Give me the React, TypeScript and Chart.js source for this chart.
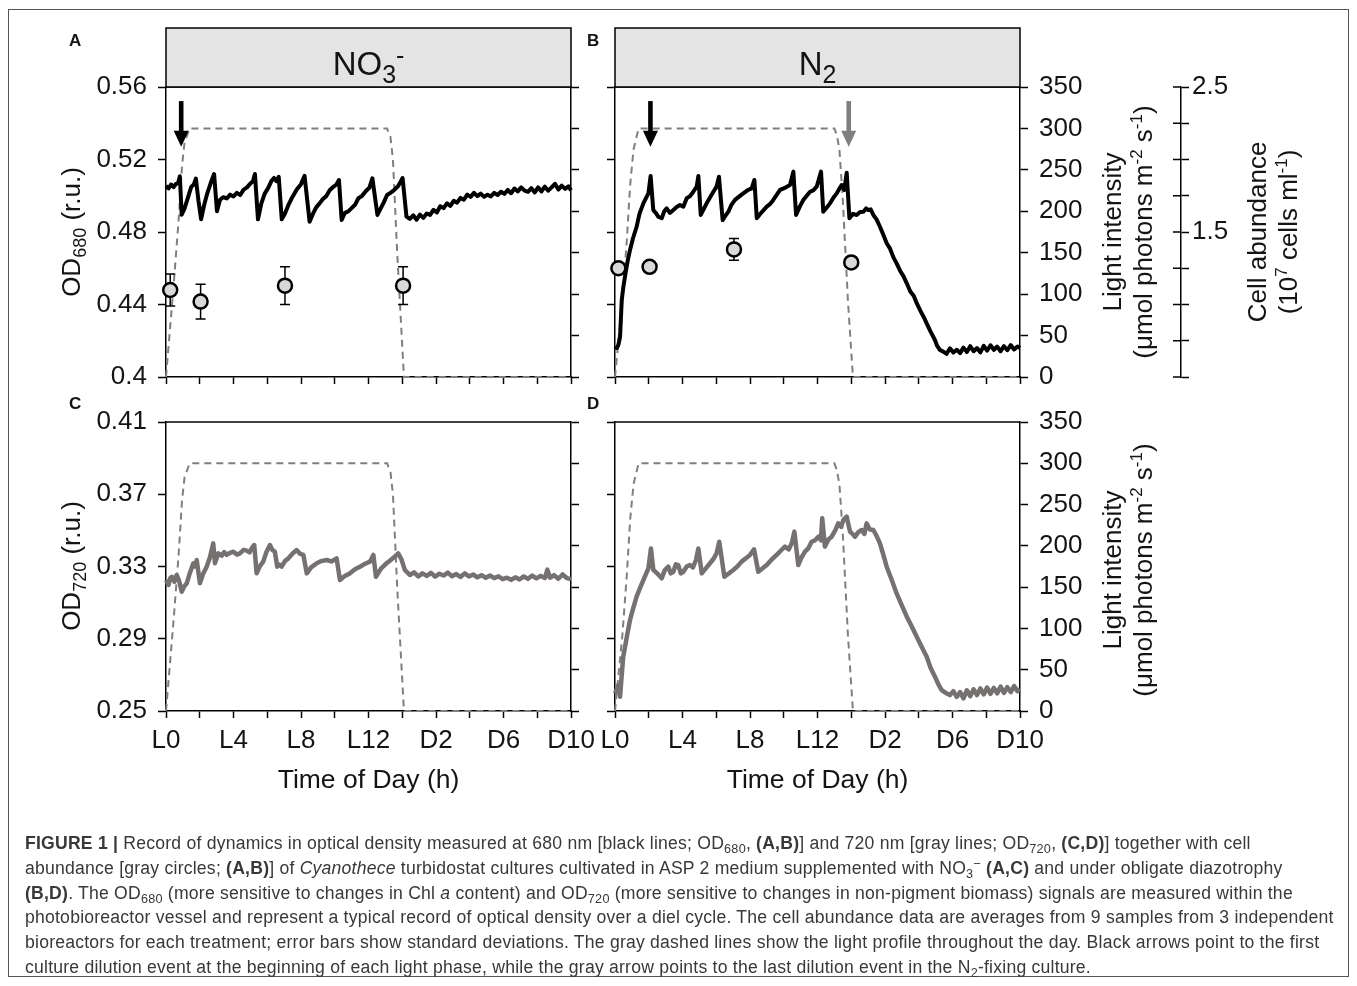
import React, { useEffect, useRef } from "react";
import { Chart, registerables } from "chart.js";

Chart.register(...registerables);

const W = 1357;
const H = 986;
const FONT = '"Liberation Sans", Arial, Helvetica, sans-serif';
const INK = "#141414";
const OD680_COLOR = "#000000";
const OD720_COLOR = "#767171";
const LIGHT_COLOR = "#7f7f7f";
const CIRCLE_FILL = "#d9d9d9";

// ---------- axis ticks ----------
const HOUR_TICKS = [0, 2, 4, 6, 8, 10, 12, 14, 16, 18, 20, 22, 24];
const HOUR_LABEL_AT = [0, 4, 8, 12, 16, 20, 24];
const HOUR_LABELS = ["L0", "L4", "L8", "L12", "D2", "D6", "D10"];
const OD680_TICKS = [0.4, 0.44, 0.48, 0.52, 0.56];
const OD680_LABELS = ["0.4", "0.44", "0.48", "0.52", "0.56"];
const OD720_TICKS = [0.25, 0.29, 0.33, 0.37, 0.41];
const OD720_LABELS = ["0.25", "0.29", "0.33", "0.37", "0.41"];
const LIGHT_TICKS = [0, 50, 100, 150, 200, 250, 300, 350];
const LIGHT_LABELS = ["0", "50", "100", "150", "200", "250", "300", "350"];
const CELL_TICKS = [0.5, 0.75, 1, 1.25, 1.5, 1.75, 2, 2.25, 2.5];
const CELL_LABELS = ["", "", "", "", "1.5", "", "", "", "2.5"];

// ---------- series: [hour, value] ----------
const NO3_OD680 = [
  [0.0, 0.5055], [0.15, 0.504], [0.3, 0.5062], [0.45, 0.5048], [0.6, 0.5066], [0.72, 0.507], [0.82, 0.5108],
  [0.93, 0.4895], [1.1, 0.493], [1.3, 0.499], [1.5, 0.505], [1.65, 0.5062], [1.77, 0.5095], [1.92, 0.4975],
  [2.08, 0.487], [2.25, 0.4945], [2.45, 0.5015], [2.65, 0.507], [2.85, 0.512], [3.02, 0.4915], [3.2, 0.4978],
  [3.4, 0.4992], [3.6, 0.4985], [3.8, 0.5006], [4.0, 0.4996], [4.2, 0.5016], [4.4, 0.5004], [4.6, 0.5034],
  [4.8, 0.5046], [5.0, 0.5068], [5.15, 0.508], [5.27, 0.512], [5.45, 0.487], [5.65, 0.4958], [5.85, 0.5012],
  [6.05, 0.5042], [6.25, 0.5082], [6.4, 0.5098], [6.55, 0.508], [6.68, 0.5104], [6.86, 0.487], [7.05, 0.4902],
  [7.25, 0.4948], [7.5, 0.4995], [7.75, 0.5034], [8.0, 0.5064], [8.21, 0.511], [8.51, 0.4857], [8.7, 0.4898],
  [8.9, 0.4936], [9.1, 0.4958], [9.3, 0.4982], [9.5, 0.4998], [9.7, 0.503], [9.9, 0.5048], [10.1, 0.5062],
  [10.25, 0.5087], [10.41, 0.4866], [10.6, 0.4906], [10.8, 0.4914], [11.0, 0.4932], [11.2, 0.495], [11.4, 0.4986],
  [11.6, 0.4998], [11.85, 0.5026], [12.05, 0.5044], [12.23, 0.5096], [12.53, 0.4894], [12.7, 0.4926], [12.9, 0.4962],
  [13.1, 0.5004], [13.3, 0.5016], [13.5, 0.503], [13.75, 0.5052], [13.92, 0.508], [14.02, 0.5098], [14.25, 0.4885],
  [14.45, 0.4872], [14.65, 0.4892], [14.85, 0.4868], [15.05, 0.4896], [15.25, 0.4878], [15.45, 0.4902], [15.65, 0.4894],
  [15.85, 0.4922], [16.05, 0.4908], [16.25, 0.4942], [16.45, 0.4932], [16.65, 0.4958], [16.85, 0.4944], [17.05, 0.4972],
  [17.25, 0.4962], [17.45, 0.4988], [17.65, 0.4978], [17.85, 0.5006], [18.05, 0.4994], [18.25, 0.5016], [18.45, 0.4998],
  [18.65, 0.5012], [18.85, 0.4994], [19.05, 0.5006], [19.25, 0.4996], [19.45, 0.5016], [19.65, 0.5004], [19.85, 0.5022],
  [20.05, 0.501], [20.25, 0.5032], [20.45, 0.5014], [20.65, 0.504], [20.85, 0.5024], [21.05, 0.5046], [21.25, 0.5028],
  [21.45, 0.5022], [21.65, 0.5042], [21.85, 0.5018], [22.05, 0.5046], [22.25, 0.5024], [22.45, 0.505], [22.65, 0.5028],
  [22.85, 0.5046], [23.05, 0.5066], [23.25, 0.5034], [23.45, 0.5056], [23.65, 0.5038], [23.85, 0.5052], [24.0, 0.503],
];

const N2_OD680 = [
  [0, 0.4167], [0.1, 0.416], [0.2, 0.4177], [0.3, 0.4222], [0.4, 0.4425], [0.5, 0.45], [0.59, 0.4553], [0.75, 0.464],
  [0.89, 0.4701], [1.05, 0.476], [1.28, 0.4829], [1.45, 0.49], [1.68, 0.4958], [1.85, 0.499], [1.98, 0.5013],
  [2.11, 0.5109], [2.27, 0.4921], [2.42, 0.4905], [2.57, 0.4884], [2.77, 0.4876], [2.92, 0.4915], [3.06, 0.4931],
  [3.25, 0.4905], [3.46, 0.4922], [3.65, 0.4938], [3.85, 0.4949], [4.05, 0.494], [4.25, 0.4986], [4.45, 0.4998],
  [4.64, 0.5022], [4.84, 0.505], [4.94, 0.5109], [5.08, 0.4894], [5.25, 0.4925], [5.43, 0.4958], [5.63, 0.499],
  [5.83, 0.5022], [6.02, 0.505], [6.16, 0.5105], [6.38, 0.4866], [6.55, 0.489], [6.72, 0.4912], [6.9, 0.495],
  [7.11, 0.4977], [7.35, 0.4995], [7.6, 0.5013], [7.85, 0.503], [8.1, 0.5041], [8.26, 0.5087], [8.4, 0.4876],
  [8.7, 0.491], [8.99, 0.494], [9.2, 0.4955], [9.38, 0.4977], [9.58, 0.5005], [9.78, 0.5032], [10.1, 0.5045],
  [10.37, 0.5059], [10.57, 0.5133], [10.73, 0.4894], [10.95, 0.494], [11.16, 0.4977], [11.36, 0.5], [11.56, 0.5022],
  [11.75, 0.503], [11.95, 0.505], [12.21, 0.5133], [12.34, 0.4912], [12.55, 0.4935], [12.74, 0.4958], [12.95, 0.499],
  [13.14, 0.5013], [13.3, 0.504], [13.43, 0.5059], [13.59, 0.5032], [13.73, 0.5127], [13.89, 0.4876], [14.1, 0.49],
  [14.32, 0.4894], [14.52, 0.491], [14.72, 0.4912], [14.88, 0.493], [15.01, 0.4921], [15.15, 0.4925], [15.31, 0.4894],
  [15.5, 0.487], [15.7, 0.4829], [15.9, 0.4785], [16.1, 0.4738], [16.3, 0.4708], [16.5, 0.466], [16.69, 0.4627],
  [16.9, 0.4585], [17.1, 0.4555], [17.29, 0.4517], [17.5, 0.4472], [17.7, 0.4448], [17.88, 0.4407], [18.1, 0.4365],
  [18.3, 0.433], [18.47, 0.4296], [18.7, 0.425], [18.96, 0.4204], [19.1, 0.417], [19.26, 0.4149], [19.45, 0.414],
  [19.65, 0.4128], [19.85, 0.4158], [20.05, 0.4135], [20.25, 0.415], [20.45, 0.4132], [20.65, 0.4162], [20.85, 0.4138],
  [21.05, 0.417], [21.25, 0.4142], [21.45, 0.416], [21.65, 0.4136], [21.85, 0.4172], [22.05, 0.4145], [22.25, 0.4175],
  [22.45, 0.415], [22.65, 0.4168], [22.85, 0.4142], [23.05, 0.417], [23.25, 0.4148], [23.45, 0.4176], [23.65, 0.4152],
  [23.85, 0.4168], [24, 0.416],
];

const NO3_OD720 = [
  [0, 0.3225], [0.15, 0.3198], [0.25, 0.3235], [0.35, 0.3243], [0.5, 0.3215], [0.63, 0.3253], [0.78, 0.322],
  [0.93, 0.316], [1.08, 0.319], [1.23, 0.3207], [1.4, 0.326], [1.62, 0.3318], [1.72, 0.33], [1.82, 0.3336],
  [2.01, 0.3207], [2.2, 0.326], [2.41, 0.3299], [2.6, 0.335], [2.8, 0.3428], [2.9, 0.3318], [3.1, 0.3373],
  [3.3, 0.336], [3.45, 0.338], [3.59, 0.3364], [3.8, 0.3376], [3.99, 0.3382], [4.2, 0.3366], [4.38, 0.3373],
  [4.6, 0.3392], [4.78, 0.3388], [4.95, 0.3378], [5.08, 0.3401], [5.23, 0.3419], [5.37, 0.3262], [5.55, 0.33],
  [5.76, 0.3327], [5.95, 0.338], [6.16, 0.3419], [6.3, 0.3392], [6.45, 0.3382], [6.59, 0.3299], [6.72, 0.331],
  [6.85, 0.3299], [7.05, 0.333], [7.25, 0.3345], [7.5, 0.3372], [7.74, 0.3391], [7.95, 0.337], [8.14, 0.3364],
  [8.34, 0.3262], [8.6, 0.3295], [8.93, 0.3318], [9.2, 0.333], [9.52, 0.3336], [9.8, 0.3328], [10.11, 0.3345],
  [10.31, 0.3225], [10.6, 0.3248], [10.9, 0.3262], [11.2, 0.3285], [11.49, 0.3299], [11.8, 0.3315], [12.09, 0.3327],
  [12.29, 0.3364], [12.44, 0.3243], [12.75, 0.329], [13.07, 0.3318], [13.3, 0.3335], [13.56, 0.3355], [13.76, 0.3373],
  [13.95, 0.334], [14.15, 0.3281], [14.45, 0.3253], [14.7, 0.3268], [14.95, 0.3245], [15.2, 0.3262], [15.45, 0.3248],
  [15.7, 0.3265], [15.95, 0.3244], [16.2, 0.326], [16.45, 0.325], [16.7, 0.3266], [16.95, 0.3246], [17.2, 0.3258],
  [17.45, 0.3242], [17.7, 0.3262], [17.95, 0.3245], [18.2, 0.3256], [18.45, 0.324], [18.7, 0.3252], [18.95, 0.3238],
  [19.2, 0.325], [19.45, 0.3236], [19.7, 0.3246], [19.95, 0.323], [20.2, 0.3238], [20.45, 0.3226], [20.7, 0.324],
  [20.95, 0.3228], [21.2, 0.3245], [21.45, 0.3232], [21.7, 0.325], [21.95, 0.3234], [22.2, 0.3248], [22.45, 0.3236],
  [22.6, 0.3283], [22.75, 0.3238], [23.0, 0.3252], [23.25, 0.3232], [23.5, 0.3256], [23.75, 0.3236], [24, 0.323],
];

const N2_OD720 = [
  [0, 0.2598], [0.1, 0.262], [0.2, 0.2644], [0.3, 0.2579], [0.4, 0.27], [0.49, 0.2801], [0.7, 0.291], [0.89, 0.3004],
  [1.08, 0.307], [1.28, 0.3133], [1.48, 0.318], [1.68, 0.3225], [1.85, 0.3262], [1.98, 0.329], [2.13, 0.34],
  [2.27, 0.3281], [2.5, 0.3262], [2.77, 0.3235], [2.95, 0.328], [3.16, 0.3299], [3.3, 0.3262], [3.46, 0.3271],
  [3.6, 0.3312], [3.75, 0.3308], [3.9, 0.3262], [4.05, 0.3271], [4.25, 0.33], [4.44, 0.3308], [4.62, 0.3295],
  [4.8, 0.3336], [4.94, 0.34], [5.14, 0.3262], [5.38, 0.329], [5.63, 0.3318], [5.82, 0.334], [6.02, 0.3373],
  [6.18, 0.3437], [6.48, 0.3243], [6.75, 0.3262], [7.01, 0.3281], [7.25, 0.33], [7.5, 0.3327], [7.75, 0.3345],
  [8.0, 0.3364], [8.24, 0.3395], [8.49, 0.3271], [8.75, 0.329], [8.99, 0.3308], [9.3, 0.334], [9.58, 0.3364],
  [9.85, 0.339], [10.07, 0.341], [10.3, 0.3395], [10.47, 0.3428], [10.63, 0.3493], [10.86, 0.3308], [11.05, 0.335],
  [11.26, 0.3382], [11.45, 0.34], [11.65, 0.3437], [11.85, 0.3445], [12.05, 0.3465], [12.2, 0.3445], [12.28, 0.3567],
  [12.44, 0.341], [12.65, 0.345], [12.84, 0.3465], [13.05, 0.35], [13.23, 0.3539], [13.4, 0.352], [13.53, 0.3557],
  [13.73, 0.3576], [13.93, 0.3493], [14.1, 0.3478], [14.22, 0.3465], [14.42, 0.349], [14.62, 0.3502], [14.78, 0.348],
  [14.91, 0.3539], [15.1, 0.3505], [15.31, 0.3502], [15.5, 0.347], [15.7, 0.3428], [15.9, 0.3365], [16.1, 0.3299],
  [16.4, 0.3225], [16.69, 0.3151], [16.95, 0.3095], [17.29, 0.3022], [17.55, 0.2975], [17.88, 0.2911], [18.15, 0.286],
  [18.47, 0.28], [18.7, 0.274], [18.96, 0.269], [19.15, 0.265], [19.36, 0.2616], [19.6, 0.26], [19.85, 0.2588],
  [20.05, 0.261], [20.25, 0.2578], [20.45, 0.2605], [20.65, 0.257], [20.85, 0.2615], [21.05, 0.2582], [21.25, 0.262],
  [21.45, 0.2588], [21.65, 0.2625], [21.85, 0.2592], [22.05, 0.263], [22.25, 0.2595], [22.45, 0.2628], [22.65, 0.2598],
  [22.85, 0.2635], [23.05, 0.26], [23.25, 0.2632], [23.45, 0.2605], [23.65, 0.2638], [23.85, 0.261], [24, 0.262],
];

// light profile (µmol photons m-2 s-1)
const NO3_LIGHT = [
  [0, 0], [0.45, 110], [0.75, 190], [0.95, 255], [1.1, 283], [1.4, 300], [13.1, 300], [13.3, 290],
  [13.45, 262], [13.7, 150], [14.1, 0], [24, 0],
];
const N2_LIGHT = [
  [0, 0], [0.45, 95], [0.7, 165], [0.9, 232], [1.1, 275], [1.4, 300], [13.0, 300], [13.15, 292],
  [13.3, 274], [13.5, 214], [13.8, 93], [14.1, 0], [24, 0],
];

// cell abundance (10^7 cells ml-1)
const NO3_CELL_T = [0.25, 2.05, 7.05, 14.05];
const NO3_CELL = [1.1, 1.02, 1.13, 1.13];
const NO3_CELL_SD = [0.11, 0.12, 0.13, 0.13];
const N2_CELL_T = [0.2, 2.05, 7.05, 14.0];
const N2_CELL = [1.25, 1.26, 1.38, 1.29];
const N2_CELL_SD = [0.03, 0.03, 0.075, 0.03];

// dilution-event arrows (hour), drawn between these light levels
const NO3_ARROWS_BLACK = [0.9];
const N2_ARROWS_BLACK = [2.1];
const N2_ARROWS_GRAY = [13.85];
const ARROW_TOP_LIGHT = 333;
const ARROW_TIP_LIGHT = 278;

// ---------- helpers ----------
type Seg = { t: string; s: number; dy?: number; b?: boolean };

function segFont(g: Seg) {
  return `${g.b ? "bold " : ""}${g.s}px ${FONT}`;
}

function drawRich(ctx: CanvasRenderingContext2D, segs: Seg[], cx: number, cy: number, rot = 0) {
  ctx.save();
  ctx.translate(cx, cy);
  ctx.rotate(rot);
  ctx.fillStyle = INK;
  ctx.textAlign = "left";
  ctx.textBaseline = "alphabetic";
  const widths = segs.map((g) => {
    ctx.font = segFont(g);
    return ctx.measureText(g.t).width;
  });
  const total = widths.reduce((a, b) => a + b, 0);
  const main = Math.max(...segs.map((g) => g.s));
  let x = -total / 2;
  const base = main * 0.36;
  segs.forEach((g, i) => {
    ctx.font = segFont(g);
    ctx.fillText(g.t, x, base + (g.dy || 0));
    x += widths[i];
  });
  ctx.restore();
}

function labelFor(v: number, at: number[], labels: string[]) {
  for (let i = 0; i < at.length; i++) if (Math.abs(at[i] - v) < 1e-9) return labels[i];
  return "";
}

const tickFont = { family: FONT, size: 26 };
const gridBase = { drawOnChartArea: false, drawTicks: true, tickWidth: 1.5, tickColor: "#000" };
const borderBase = { display: true, color: "#000", width: 1.5 };

interface Title { segs: Seg[]; x: number; y: number; rot: number }
interface PanelSpec {
  key: string;
  left: number; right: number; top: number; bottom: number;
  leftAxisW: number; rightAxisW: number; cellAxisW: number; bottomAxisH: number;
  odMin: number; odMax: number; odTicks: number[]; odLabels: string[];
  showOdLabels: boolean; showXLabels: boolean; showLightLabels: boolean; showCellAxis: boolean;
  od: number[][]; odColor: string; odWidth: number;
  light: number[][];
  cellT?: number[]; cell?: number[]; cellSD?: number[];
  arrowsBlack?: number[]; arrowsGray?: number[];
  header?: Seg[];
  letter: string; letterX: number; letterY: number;
  titles: Title[];
}

function overlay(spec: PanelSpec) {
  return {
    id: "overlay_" + spec.key,
    beforeDatasetDraw(chart: any, args: any) {
      if (!spec.cell || args.index !== 0) return;
      const ctx = chart.ctx;
      const xs = chart.scales.x;
      const ys = chart.scales.y3;
      ctx.save();
      ctx.strokeStyle = "#000";
      ctx.lineWidth = 1.5;
      spec.cell.forEach((v, i) => {
        const x = xs.getPixelForValue(spec.cellT![i]);
        const yHi = ys.getPixelForValue(v + spec.cellSD![i]);
        const yLo = ys.getPixelForValue(v - spec.cellSD![i]);
        ctx.beginPath();
        ctx.moveTo(x, yHi);
        ctx.lineTo(x, yLo);
        ctx.moveTo(x - 5, yHi);
        ctx.lineTo(x + 5, yHi);
        ctx.moveTo(x - 5, yLo);
        ctx.lineTo(x + 5, yLo);
        ctx.stroke();
      });
      ctx.restore();
    },
    afterDatasetsDraw(chart: any) {
      const ctx = chart.ctx;
      const xs = chart.scales.x;
      const ly = chart.scales.y2;
      const drawArrow = (t: number, color: string) => {
        const x = xs.getPixelForValue(t);
        const yTop = ly.getPixelForValue(ARROW_TOP_LIGHT);
        const yTip = ly.getPixelForValue(ARROW_TIP_LIGHT);
        const headH = 16;
        ctx.save();
        ctx.fillStyle = color;
        ctx.fillRect(x - 2.3, yTop, 4.6, yTip - yTop - headH + 1);
        ctx.beginPath();
        ctx.moveTo(x - 7.5, yTip - headH);
        ctx.lineTo(x + 7.5, yTip - headH);
        ctx.lineTo(x, yTip);
        ctx.closePath();
        ctx.fill();
        ctx.restore();
      };
      (spec.arrowsBlack || []).forEach((t) => drawArrow(t, "#000"));
      (spec.arrowsGray || []).forEach((t) => drawArrow(t, "#7f7f7f"));
    },
    afterDraw(chart: any) {
      const ctx = chart.ctx;
      const a = chart.chartArea;
      ctx.save();
      // top frame line
      ctx.strokeStyle = "#000";
      ctx.lineWidth = 1.5;
      ctx.beginPath();
      ctx.moveTo(a.left, a.top);
      ctx.lineTo(a.right, a.top);
      ctx.stroke();
      // header strip
      if (spec.header) {
        const hTop = a.top - 59;
        ctx.fillStyle = "#e4e4e4";
        ctx.fillRect(a.left, hTop, a.right - a.left, 59);
        ctx.strokeStyle = "#000";
        ctx.lineWidth = 1.5;
        ctx.strokeRect(a.left, hTop, a.right - a.left, 59);
        drawRich(ctx, spec.header, (a.left + a.right) / 2, hTop + 35);
      }
      // inward half of the cell-abundance ticks
      if (spec.showCellAxis) {
        const cs = chart.scales.y3;
        ctx.strokeStyle = "#000";
        ctx.lineWidth = 1.5;
        CELL_TICKS.forEach((v) => {
          const y = cs.getPixelForValue(v);
          ctx.beginPath();
          ctx.moveTo(cs.left - 8, y);
          ctx.lineTo(cs.left, y);
          ctx.stroke();
        });
      }
      // panel letter
      ctx.fillStyle = INK;
      ctx.font = `bold 17px ${FONT}`;
      ctx.textAlign = "left";
      ctx.textBaseline = "alphabetic";
      ctx.fillText(spec.letter, spec.letterX, spec.letterY);
      ctx.restore();
      spec.titles.forEach((tt) => drawRich(ctx, tt.segs, tt.x, tt.y, tt.rot));
    },
  };
}

function buildConfig(spec: PanelSpec): any {
  const pts = (arr: number[][]) => arr.map((p) => ({ x: p[0], y: p[1] }));
  const datasets: any[] = [];
  if (spec.cell) {
    datasets.push({
      label: "cells",
      data: spec.cell.map((v, i) => ({ x: spec.cellT![i], y: v })),
      yAxisID: "y3",
      showLine: false,
      pointRadius: 7,
      pointHoverRadius: 7,
      pointBackgroundColor: CIRCLE_FILL,
      pointBorderColor: "#000",
      pointBorderWidth: 2.5,
      clip: false,
    });
  }
  datasets.push({
    label: "od",
    data: pts(spec.od),
    yAxisID: "y",
    borderColor: spec.odColor,
    borderWidth: spec.odWidth,
    pointRadius: 0,
    tension: 0,
    borderJoinStyle: "round",
    clip: false,
  });
  datasets.push({
    label: "light",
    data: pts(spec.light),
    yAxisID: "y2",
    borderColor: LIGHT_COLOR,
    borderWidth: 2,
    borderDash: [7, 5],
    pointRadius: 0,
    tension: 0,
    clip: false,
  });

  const padRight = W - spec.right - spec.rightAxisW - (spec.showCellAxis ? spec.cellAxisW : 0);
  const scales: any = {
    x: {
      type: "linear",
      position: "bottom",
      min: 0,
      max: 24,
      afterBuildTicks: (s: any) => {
        s.ticks = HOUR_TICKS.map((v) => ({ value: v }));
      },
      afterFit: (s: any) => {
        s.height = spec.bottomAxisH;
      },
      ticks: {
        autoSkip: false,
        maxRotation: 0,
        minRotation: 0,
        padding: 7,
        font: tickFont,
        color: INK,
        callback: (v: number) => (spec.showXLabels ? labelFor(v, HOUR_LABEL_AT, HOUR_LABELS) : ""),
      },
      grid: { ...gridBase, tickLength: 7 },
      border: borderBase,
    },
    y: {
      type: "linear",
      position: "left",
      min: spec.odMin,
      max: spec.odMax,
      afterBuildTicks: (s: any) => {
        s.ticks = spec.odTicks.map((v) => ({ value: v }));
      },
      afterFit: (s: any) => {
        s.width = spec.leftAxisW;
      },
      ticks: {
        padding: 11,
        font: tickFont,
        color: INK,
        callback: (v: number) => (spec.showOdLabels ? labelFor(v, spec.odTicks, spec.odLabels) : ""),
      },
      grid: { ...gridBase, tickLength: 8 },
      border: borderBase,
    },
    y2: {
      type: "linear",
      position: "right",
      min: 0,
      max: 350,
      afterBuildTicks: (s: any) => {
        s.ticks = LIGHT_TICKS.map((v) => ({ value: v }));
      },
      afterFit: (s: any) => {
        s.width = spec.rightAxisW;
      },
      ticks: {
        padding: 11,
        font: tickFont,
        color: INK,
        callback: (v: number) => (spec.showLightLabels ? labelFor(v, LIGHT_TICKS, LIGHT_LABELS) : ""),
      },
      grid: { ...gridBase, tickLength: 8 },
      border: borderBase,
    },
    y3: {
      type: "linear",
      position: "right",
      display: spec.showCellAxis,
      min: 0.5,
      max: 2.5,
      afterBuildTicks: (s: any) => {
        s.ticks = CELL_TICKS.map((v) => ({ value: v }));
      },
      ticks: {
        padding: 3,
        font: tickFont,
        color: INK,
        callback: (v: number) => labelFor(v, CELL_TICKS, CELL_LABELS),
      },
      grid: { ...gridBase, tickLength: 8 },
      border: borderBase,
    },
  };
  if (spec.showCellAxis) {
    scales.y3.afterFit = (s: any) => {
      s.width = spec.cellAxisW;
    };
  }

  return {
    type: "line",
    data: { datasets },
    options: {
      responsive: false,
      maintainAspectRatio: false,
      devicePixelRatio: 1,
      animation: false,
      events: [],
      layout: {
        padding: {
          left: spec.left - spec.leftAxisW,
          right: padRight,
          top: spec.top,
          bottom: H - spec.bottom - spec.bottomAxisH,
        },
      },
      plugins: { legend: { display: false }, tooltip: { enabled: false }, title: { display: false } },
      scales,
    },
    plugins: [overlay(spec)],
  };
}

// ---------- titles ----------
const ROT = -Math.PI / 2;
const odTitle = (sub: string): Seg[] => [
  { t: "OD", s: 26 },
  { t: sub, s: 18, dy: 6 },
  { t: " (r.u.)", s: 26 },
];
const lightTitle1: Seg[] = [{ t: "Light intensity", s: 26 }];
const lightTitle2: Seg[] = [
  { t: "(\u03bcmol photons m", s: 26 },
  { t: "-2", s: 17, dy: -10 },
  { t: " s", s: 26 },
  { t: "-1", s: 17, dy: -10 },
  { t: ")", s: 26 },
];
const cellTitle1: Seg[] = [{ t: "Cell abundance", s: 26 }];
const cellTitle2: Seg[] = [
  { t: "(10", s: 26 },
  { t: "7", s: 17, dy: -10 },
  { t: " cells ml", s: 26 },
  { t: "-1", s: 17, dy: -10 },
  { t: ")", s: 26 },
];
const timeTitle: Seg[] = [{ t: "Time of Day (h)", s: 26.5 }];

const PANELS: PanelSpec[] = [
  {
    key: "A", left: 166, right: 571, top: 87, bottom: 377,
    leftAxisW: 166, rightAxisW: 30, cellAxisW: 0, bottomAxisH: 20,
    odMin: 0.4, odMax: 0.56, odTicks: OD680_TICKS, odLabels: OD680_LABELS,
    showOdLabels: true, showXLabels: false, showLightLabels: false, showCellAxis: false,
    od: NO3_OD680, odColor: OD680_COLOR, odWidth: 4, light: NO3_LIGHT,
    cellT: NO3_CELL_T, cell: NO3_CELL, cellSD: NO3_CELL_SD,
    arrowsBlack: NO3_ARROWS_BLACK,
    header: [
      { t: "NO", s: 33 },
      { t: "3", s: 25, dy: 8 },
      { t: "-", s: 25, dy: -11 },
    ],
    letter: "A", letterX: 69, letterY: 46,
    titles: [{ segs: odTitle("680"), x: 71, y: 232, rot: ROT }],
  },
  {
    key: "B", left: 615, right: 1020, top: 87, bottom: 377,
    leftAxisW: 40, rightAxisW: 161, cellAxisW: 50, bottomAxisH: 20,
    odMin: 0.4, odMax: 0.56, odTicks: OD680_TICKS, odLabels: OD680_LABELS,
    showOdLabels: false, showXLabels: false, showLightLabels: true, showCellAxis: true,
    od: N2_OD680, odColor: OD680_COLOR, odWidth: 4, light: N2_LIGHT,
    cellT: N2_CELL_T, cell: N2_CELL, cellSD: N2_CELL_SD,
    arrowsBlack: N2_ARROWS_BLACK, arrowsGray: N2_ARROWS_GRAY,
    header: [
      { t: "N", s: 33 },
      { t: "2", s: 25, dy: 8 },
    ],
    letter: "B", letterX: 587, letterY: 46,
    titles: [
      { segs: lightTitle1, x: 1112, y: 232, rot: ROT },
      { segs: lightTitle2, x: 1143, y: 232, rot: ROT },
      { segs: cellTitle1, x: 1257, y: 232, rot: ROT },
      { segs: cellTitle2, x: 1288, y: 232, rot: ROT },
    ],
  },
  {
    key: "C", left: 166, right: 571, top: 422, bottom: 711,
    leftAxisW: 166, rightAxisW: 30, cellAxisW: 0, bottomAxisH: 60,
    odMin: 0.25, odMax: 0.41, odTicks: OD720_TICKS, odLabels: OD720_LABELS,
    showOdLabels: true, showXLabels: true, showLightLabels: false, showCellAxis: false,
    od: NO3_OD720, odColor: OD720_COLOR, odWidth: 4.5, light: NO3_LIGHT,
    letter: "C", letterX: 69, letterY: 409,
    titles: [
      { segs: odTitle("720"), x: 71, y: 566, rot: ROT },
      { segs: timeTitle, x: 368.5, y: 778, rot: 0 },
    ],
  },
  {
    key: "D", left: 615, right: 1020, top: 422, bottom: 711,
    leftAxisW: 40, rightAxisW: 161, cellAxisW: 0, bottomAxisH: 60,
    odMin: 0.25, odMax: 0.41, odTicks: OD720_TICKS, odLabels: OD720_LABELS,
    showOdLabels: false, showXLabels: true, showLightLabels: true, showCellAxis: false,
    od: N2_OD720, odColor: OD720_COLOR, odWidth: 4.5, light: N2_LIGHT,
    letter: "D", letterX: 587, letterY: 409,
    titles: [
      { segs: lightTitle1, x: 1112, y: 570, rot: ROT },
      { segs: lightTitle2, x: 1143, y: 570, rot: ROT },
      { segs: timeTitle, x: 817.5, y: 778, rot: 0 },
    ],
  },
];

function Panel({ spec }: { spec: PanelSpec }) {
  const ref = useRef<HTMLCanvasElement | null>(null);
  useEffect(() => {
    if (!ref.current) return;
    const chart = new Chart(ref.current, buildConfig(spec));
    return () => chart.destroy();
  }, [spec]);
  return (
    <canvas
      ref={ref}
      width={W}
      height={H}
      style={{ position: "absolute", left: 0, top: 0, width: W, height: H }}
    />
  );
}

const Sub = ({ children }: { children: React.ReactNode }) => (
  <span style={{ fontSize: "0.72em", position: "relative", top: "0.32em" }}>{children}</span>
);
const Sup = ({ children }: { children: React.ReactNode }) => (
  <span style={{ fontSize: "0.72em", position: "relative", top: "-0.45em" }}>{children}</span>
);

const LINE_H = 24.8;
const lineStyle: React.CSSProperties = { height: LINE_H, lineHeight: `${LINE_H}px`, whiteSpace: "nowrap" };

function Caption() {
  return (
    <div
      style={{
        position: "absolute",
        left: 25,
        top: 831,
        fontFamily: FONT,
        fontSize: 17.6,
        letterSpacing: 0.22,
        color: "#383838",
      }}
    >
      <div style={lineStyle}>
        <b>FIGURE 1 |</b> Record of dynamics in optical density measured at 680 nm [black lines; OD<Sub>680</Sub>,{" "}
        <b>(A,B)</b>] and 720 nm [gray lines; OD<Sub>720</Sub>, <b>(C,D)</b>] together with cell
      </div>
      <div style={lineStyle}>
        abundance [gray circles; <b>(A,B)</b>] of <i>Cyanothece</i> turbidostat cultures cultivated in ASP 2 medium
        supplemented with NO<Sub>3</Sub>
        <Sup>{"\u2212"}</Sup> <b>(A,C)</b> and under obligate diazotrophy
      </div>
      <div style={lineStyle}>
        <b>(B,D)</b>. The OD<Sub>680</Sub> (more sensitive to changes in Chl <i>a</i> content) and OD<Sub>720</Sub>{" "}
        (more sensitive to changes in non-pigment biomass) signals are measured within the
      </div>
      <div style={lineStyle}>
        photobioreactor vessel and represent a typical record of optical density over a diel cycle. The cell abundance
        data are averages from 9 samples from 3 independent
      </div>
      <div style={lineStyle}>
        bioreactors for each treatment; error bars show standard deviations. The gray dashed lines show the light
        profile throughout the day. Black arrows point to the first
      </div>
      <div style={lineStyle}>
        culture dilution event at the beginning of each light phase, while the gray arrow points to the last dilution
        event in the N<Sub>2</Sub>-fixing culture.
      </div>
    </div>
  );
}

export default function App() {
  return (
    <div style={{ position: "absolute", left: 0, top: 0, width: W, height: H, background: "#fff", overflow: "hidden" }}>
      <div
        style={{
          position: "absolute",
          left: 8,
          top: 9,
          width: 1341,
          height: 968,
          border: "1px solid #555",
          boxSizing: "border-box",
        }}
      />
      {PANELS.map((p) => (
        <Panel key={p.key} spec={p} />
      ))}
      <Caption />
    </div>
  );
}
